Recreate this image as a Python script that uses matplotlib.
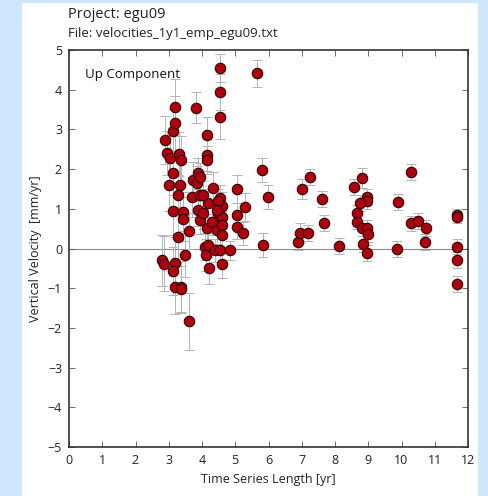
import matplotlib
matplotlib.use("Agg")
import matplotlib.pyplot as plt
from matplotlib.patches import Rectangle

plt.rcParams['font.family'] = ['Open Sans', 'DejaVu Sans']

# time series length [yr]
length = [2.80, 2.86, 2.89, 2.94, 3.04, 3.02, 3.12, 3.19, 3.19, 3.14,
          3.14, 3.19, 3.14, 3.19, 3.29, 3.29, 3.34, 3.32, 3.36, 3.36,
          3.38, 3.42, 3.44, 3.49, 3.62, 3.62, 3.69, 3.74, 3.82, 3.84,
          3.89, 3.94, 3.89, 3.94, 3.94, 4.04, 4.09, 4.12, 4.14, 4.16,
          4.16, 4.16, 4.19, 4.19, 4.22, 4.29, 4.34, 4.39, 4.44, 4.49,
          4.54, 4.54, 4.54, 4.54, 4.54, 4.59, 4.59, 4.59, 4.59, 4.59,
          4.84, 5.06, 5.06, 5.06, 5.22, 5.29, 5.64, 5.79, 5.99, 5.84,
          6.90, 6.95, 7.20, 7.00, 7.25, 7.62, 7.67, 8.13, 8.58, 8.80,
          8.97, 8.97, 8.75, 8.65, 8.65, 8.80, 8.95, 9.00, 8.83, 8.97,
          9.87, 9.90, 10.28, 10.28, 10.51, 10.73, 10.71, 11.68, 11.68, 11.68,
          11.68, 11.66, 4.49, 4.44, 4.04]

# vertical velocity [mm/yr]
velocity = [-0.30, -0.38, 2.73, 2.40, 2.27, 1.60, 2.96, 3.15, 3.57, 1.91,
            0.94, -0.37, -0.56, -0.96, 0.28, 1.35, 1.60, 2.38, 2.23, -0.96,
            -1.03, 0.93, 0.74, -0.16, 0.45, -1.83, 1.30, 1.73, 3.55, 1.64,
            1.89, 1.81, 0.97, 1.35, 0.72, 0.89, 0.05, -0.16, 0.51, 2.86,
            2.36, 2.23, 1.14, 0.09, -0.50, 0.68, 1.52, -0.05, 0.47, 0.89,
            -0.05, 1.26, 4.55, 3.95, 3.32, 1.07, 0.80, 0.59, 0.34, -0.39,
            -0.05, 1.49, 0.84, 0.53, 0.38, 1.05, 4.41, 1.98, 1.29, 0.09,
            0.17, 0.40, 0.40, 1.50, 1.81, 1.24, 0.65, 0.06, 1.56, 1.77,
            1.30, 1.20, 1.14, 0.90, 0.68, 0.51, 0.51, 0.37, 0.11, -0.12,
            -0.02, 1.18, 1.92, 0.63, 0.69, 0.51, 0.17, 0.84, 0.79, 0.05,
            -0.28, -0.89, 1.20, 0.98, 1.35]

# velocity uncertainty [mm/yr]
sigma = [0.65, 0.70, 0.60, 0.55, 0.60, 0.65, 0.55, 0.70, 0.70, 0.55,
         0.60, 0.65, 0.60, 0.70, 0.55, 0.50, 0.55, 0.55, 0.60, 0.65,
         0.60, 0.50, 0.55, 0.55, 0.45, 0.72, 0.50, 0.45, 0.40, 0.45,
         0.40, 0.35, 0.40, 0.45, 0.35, 0.40, 0.35, 0.40, 0.35, 0.45,
         0.40, 0.35, 0.35, 0.30, 0.40, 0.35, 0.40, 0.30, 0.35, 0.35,
         0.30, 0.35, 0.35, 0.45, 0.55, 0.35, 0.30, 0.35, 0.30, 0.35,
         0.25, 0.35, 0.30, 0.30, 0.30, 0.35, 0.35, 0.30, 0.30, 0.30,
         0.20, 0.25, 0.20, 0.25, 0.20, 0.20, 0.20, 0.20, 0.20, 0.25,
         0.20, 0.20, 0.20, 0.20, 0.20, 0.20, 0.20, 0.20, 0.20, 0.20,
         0.20, 0.20, 0.20, 0.20, 0.20, 0.20, 0.20, 0.15, 0.15, 0.20,
         0.20, 0.20, 0.30, 0.30, 0.35]

fig = plt.figure(figsize=(4.88, 4.96), dpi=100, facecolor='#cfe7fd')
# white panel behind the plot
panel = Rectangle((22 / 488, 0), 456 / 488, 493 / 496,
                  transform=fig.transFigure, facecolor='white',
                  edgecolor='none', zorder=-10)
fig.add_artist(panel)

ax = fig.add_axes([69 / 488, 49 / 496, 399 / 488, 397 / 496])
ax.set_zorder(1)
ax.axhline(0, color='#8a8a8a', lw=0.8, zorder=1)
ax.errorbar(length, velocity, yerr=sigma, fmt='none', ecolor='#b4b4b4',
            elinewidth=0.7, capsize=3.5, capthick=0.7, zorder=2)
ax.plot(length, velocity, 'o', ms=7.5, mfc='#b0000e', mec='#300000',
        mew=0.8, zorder=3)

ax.set_xlim(0, 12)
ax.set_ylim(-5, 5)
ax.set_xticks(range(0, 13))
ax.set_yticks(range(-5, 6))
ax.tick_params(direction='in', length=4, width=0.6, color='#555555',
               labelsize=9, top=True, right=True, pad=5, labelcolor='#222222')
for s in ax.spines.values():
    s.set_linewidth(1.2)
    s.set_color('#333333')

ax.set_xlabel('Time Series Length [yr]', fontsize=9, labelpad=4, color='#222222')
ax.set_ylabel('Vertical Velocity  [mm/yr]', fontsize=9, labelpad=4, color='#222222')
ax.text(0.04, 0.955, 'Up Component', transform=ax.transAxes, fontsize=9.5,
        va='top', ha='left', color='#111111')

fig.text(68 / 488, 1 - 14 / 496, 'Project: egu09', fontsize=10.5,
         va='center', ha='left', color='#222222')
fig.text(68 / 488, 1 - 33 / 496, 'File: velocities_1y1_emp_egu09.txt',
         fontsize=9.5, va='center', ha='left', color='#222222')

fig.savefig('out.png', dpi=100, facecolor=fig.get_facecolor())
